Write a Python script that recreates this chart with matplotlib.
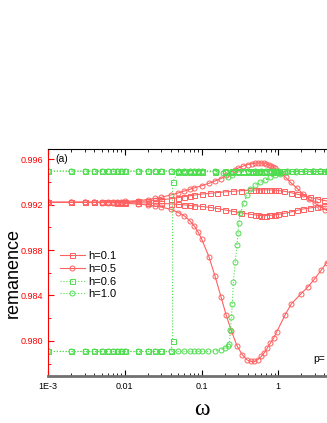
import matplotlib
matplotlib.use('Agg')
from matplotlib import pyplot as plt
from matplotlib.ticker import FixedLocator, MultipleLocator, LogLocator, NullFormatter

plt.rcParams['font.family'] = ['Liberation Sans', 'DejaVu Sans']

RED = '#ff6060'
GREEN = '#50dd50'

# h=0.1, two branches (squares)
w_h01_up = [0.001, 0.002, 0.003, 0.004, 0.005, 0.006, 0.007, 0.008, 0.009, 0.01, 0.015, 0.02, 0.025, 0.03,
            0.04, 0.05, 0.06, 0.07, 0.08, 0.1, 0.13, 0.16, 0.2, 0.26, 0.33, 0.43, 0.5, 0.55, 0.6, 0.65, 0.7,
            0.75, 0.8, 0.9, 1.0, 1.2, 1.45, 1.75, 2.1, 2.6, 3.2, 3.9, 4.6]
r_h01_up = [0.99220, 0.99220, 0.99220, 0.99220, 0.99221, 0.99221, 0.99222, 0.99222, 0.99223, 0.99224, 0.99228,
            0.99232, 0.99238, 0.99243, 0.99252, 0.99262, 0.99270, 0.99278, 0.99284, 0.99293, 0.99300, 0.99306,
            0.99312, 0.99318, 0.99323, 0.99327, 0.99329, 0.99330, 0.99330, 0.99330, 0.99330, 0.99330, 0.99329,
            0.99328, 0.99325, 0.99318, 0.99306, 0.99293, 0.99280, 0.99265, 0.99250, 0.99238, 0.99228]
w_h01_dn = w_h01_up
r_h01_dn = [0.99220, 0.99220, 0.99220, 0.99220, 0.99219, 0.99219, 0.99219, 0.99218, 0.99218, 0.99218, 0.99216,
            0.99214, 0.99212, 0.99210, 0.99206, 0.99202, 0.99198, 0.99194, 0.99190, 0.99184, 0.99175, 0.99166,
            0.99154, 0.99140, 0.99127, 0.99115, 0.99109, 0.99106, 0.99104, 0.99103, 0.99104, 0.99105, 0.99107,
            0.99110, 0.99114, 0.99123, 0.99135, 0.99149, 0.99161, 0.99171, 0.99179, 0.99184, 0.99188]

# h=0.5, two branches (circles)
w_h05_up = [0.001, 0.002, 0.003, 0.004, 0.005, 0.006, 0.007, 0.008, 0.009, 0.01, 0.015, 0.02, 0.025, 0.03,
            0.04, 0.05, 0.06, 0.07, 0.08, 0.1, 0.125, 0.15, 0.18, 0.21, 0.24, 0.27, 0.3, 0.35, 0.4, 0.45, 0.5,
            0.55, 0.6, 0.65, 0.7, 0.75, 0.8, 0.85, 0.9, 1.0, 1.1, 1.25, 1.45, 1.75, 2.1, 2.5, 3.0, 3.5, 4.1, 4.7]
r_h05_up = [0.99220, 0.99220, 0.99221, 0.99221, 0.99222, 0.99223, 0.99224, 0.99225, 0.99226, 0.99228, 0.99236,
            0.99245, 0.99255, 0.99265, 0.99285, 0.99303, 0.99320, 0.99334, 0.99347, 0.99366, 0.99388, 0.99408,
            0.99430, 0.99458, 0.99486, 0.99506, 0.99522, 0.99540, 0.99553, 0.99560, 0.99565, 0.99567, 0.99567,
            0.99564, 0.99558, 0.99550, 0.99540, 0.99531, 0.99521, 0.99500, 0.99475, 0.99440, 0.99395, 0.99345,
            0.99295, 0.99252, 0.99212, 0.99183, 0.99155, 0.99135]
w_h05_dn = [0.001, 0.002, 0.003, 0.004, 0.005, 0.006, 0.007, 0.008, 0.009, 0.01, 0.015, 0.02, 0.025, 0.03,
            0.04, 0.05, 0.06, 0.07, 0.08, 0.09, 0.1, 0.125, 0.15, 0.18, 0.21, 0.245, 0.29, 0.34, 0.39, 0.44,
            0.49, 0.54, 0.6, 0.66, 0.72, 0.79, 0.87, 0.96, 1.23, 1.48, 1.95, 2.45, 2.95, 3.6, 4.3]
r_h05_dn = [0.99220, 0.99220, 0.99219, 0.99219, 0.99218, 0.99217, 0.99216, 0.99215, 0.99214, 0.99212, 0.99205,
            0.99197, 0.99188, 0.99178, 0.99158, 0.99130, 0.99100, 0.99060, 0.99015, 0.98960, 0.98900, 0.98741,
            0.98570, 0.98385, 0.98225, 0.98088, 0.97956, 0.97877, 0.97833, 0.97818, 0.97818, 0.97833, 0.97862,
            0.97897, 0.97936, 0.97980, 0.98024, 0.98082, 0.98229, 0.98325, 0.98410, 0.98477, 0.98542, 0.98620,
            0.98690]

# h=0.6, two branches (squares, dotted)
w_h06_up = [0.001, 0.002, 0.003, 0.004, 0.005, 0.006, 0.007, 0.008, 0.009, 0.01, 0.015, 0.02, 0.025, 0.03,
            0.04, 0.05, 0.06, 0.07, 0.08, 0.09, 0.1, 0.15, 0.2, 0.25, 0.3, 0.35, 0.4, 0.45, 0.5, 0.55, 0.6, 0.65,
            0.7, 0.75, 0.8, 0.85, 0.9, 0.95, 1.0, 1.2, 1.5, 2.0, 2.5, 3.0, 3.5, 4.0, 4.5]
r_h06_up = [0.99495] * 39 + [0.99494, 0.99493, 0.99492, 0.99492, 0.99492, 0.99492, 0.99492, 0.99492]
w_h06_dn = [0.001, 0.002, 0.003, 0.004, 0.005, 0.006, 0.007, 0.008, 0.009, 0.01, 0.015, 0.02, 0.025, 0.03,
            0.04, 0.042, 0.042, 0.05, 0.06, 0.07, 0.08, 0.09, 0.1, 0.15, 0.2, 0.25, 0.3, 0.35, 0.4, 0.45, 0.5,
            0.55, 0.6, 0.65, 0.7, 0.75, 0.8, 0.85, 0.9, 0.95, 1.0, 1.2, 1.5, 2.0, 2.5, 3.0, 3.5, 4.0, 4.5]
r_h06_dn = [0.97906] * 15 + [0.98000, 0.99400] + [0.99490] * 24 + [0.99492] * 8

# h=1.0, two branches (circles, dotted)
w_h10_up = [0.001, 0.002, 0.003, 0.004, 0.005, 0.006, 0.007, 0.008, 0.009, 0.01, 0.015, 0.02, 0.025, 0.03,
            0.04, 0.05, 0.06, 0.07, 0.08, 0.09, 0.1, 0.15, 0.19, 0.22, 0.25, 0.3, 0.4, 0.5, 0.6, 0.7, 0.8, 0.9,
            1.0, 1.3, 1.7, 2.2, 2.8, 3.5, 4.3]
r_h10_up = [0.99495] * 22 + [0.99475, 0.99445, 0.99460, 0.99485, 0.99493, 0.99495, 0.99495, 0.99495,
                             0.99495, 0.99495, 0.99494, 0.99493, 0.99492, 0.99492, 0.99492, 0.99492, 0.99492]
w_h10_dn = [0.001, 0.002, 0.003, 0.004, 0.005, 0.006, 0.007, 0.008, 0.009, 0.01, 0.015, 0.02, 0.025, 0.03,
            0.04, 0.05, 0.06, 0.07, 0.08, 0.09, 0.1, 0.12, 0.15, 0.177, 0.2, 0.22, 0.231, 0.238, 0.245, 0.252,
            0.26, 0.276, 0.29, 0.3, 0.305, 0.321, 0.354, 0.392, 0.433, 0.503, 0.584, 0.678, 0.787, 0.914, 1.04,
            1.3, 1.7, 2.2, 2.8, 3.5, 4.3]
r_h10_dn = [0.97906] * 22 + [0.97910, 0.97921, 0.97935, 0.97955, 0.97974, 0.98097, 0.98210, 0.98325,
                             0.98519, 0.98695, 0.98844, 0.98949, 0.99035, 0.99123, 0.99211, 0.99284, 0.99334,
                             0.99371, 0.99395, 0.99415, 0.99439, 0.99459, 0.99474, 0.99485, 0.99490, 0.99492,
                             0.99492, 0.99492, 0.99492]

xticks = [0.001, 0.01, 0.1, 1]
xticklabels = ['1E-3', '0.01', '0.1', '1']
yticks = [0.980, 0.984, 0.988, 0.992, 0.996]

fig = plt.figure(figsize=(3.27, 4.23), dpi=100)
ax = fig.add_axes([48 / 327, 47 / 423, 307 / 327, 227 / 423])

st = dict(markersize=3.6, markerfacecolor='none', markeredgewidth=0.7, linewidth=0.8)
ax.plot(w_h01_up, r_h01_up, '-s', color=RED, label='h=0.1', **st)
ax.plot(w_h01_dn, r_h01_dn, '-s', color=RED, **st)
ax.plot(w_h05_up, r_h05_up, '-o', color=RED, label='h=0.5', **st)
ax.plot(w_h05_dn, r_h05_dn, '-o', color=RED, **st)
ax.plot(w_h06_up, r_h06_up, ':s', color=GREEN, label='h=0.6', **st)
ax.plot(w_h06_dn, r_h06_dn, ':s', color=GREEN, **st)
ax.plot(w_h10_up, r_h10_up, ':o', color=GREEN, label='h=1.0', **st)
ax.plot(w_h10_dn, r_h10_dn, ':o', color=GREEN, **st)

ax.set_xscale('log')
ax.set_xlim(1e-3, 10)
ax.set_ylim(0.9769, 0.9969)
ax.xaxis.set_major_locator(FixedLocator(xticks))
ax.set_xticklabels(xticklabels)
ax.xaxis.set_minor_locator(LogLocator(base=10, subs=range(2, 10)))
ax.xaxis.set_minor_formatter(NullFormatter())
ax.set_yticks(yticks)
ax.set_yticklabels(['%.3f' % v for v in yticks])
ax.yaxis.set_minor_locator(MultipleLocator(0.002))

ax.tick_params(axis='both', which='both', direction='in', top=True)
ax.tick_params(axis='x', which='major', length=4, width=0.8, labelsize=6.5, pad=4)
ax.tick_params(axis='x', which='minor', length=2, width=0.6)
ax.tick_params(axis='y', which='major', length=4, width=0.8, labelsize=6.5,
               colors='red', labelcolor='red')
ax.tick_params(axis='y', which='minor', length=2, width=0.6, colors='red')
ax.spines['left'].set_color('red')
ax.spines['bottom'].set_color('#707070')
ax.spines['bottom'].set_linewidth(2)
ax.spines['top'].set_linewidth(0.8)

ax.set_ylabel('remanence', fontsize=13)
ax.yaxis.set_label_coords(-0.085, 0.454)
ax.set_xlabel('ω', fontsize=17, family=['Liberation Serif', 'DejaVu Serif'], labelpad=6)

ax.text(0.025, 0.955, '(a)', transform=ax.transAxes, fontsize=7.5, va='center')
ax.text(265 / 307, 0.06, 'p=', transform=ax.transAxes, fontsize=7.5)

ax.legend(loc='upper left', bbox_to_anchor=(0.02, 0.575), frameon=False, fontsize=8,
          handlelength=2.3, handletextpad=0.3, labelspacing=0.25, borderpad=0)

fig.savefig('out.png', dpi=100)
